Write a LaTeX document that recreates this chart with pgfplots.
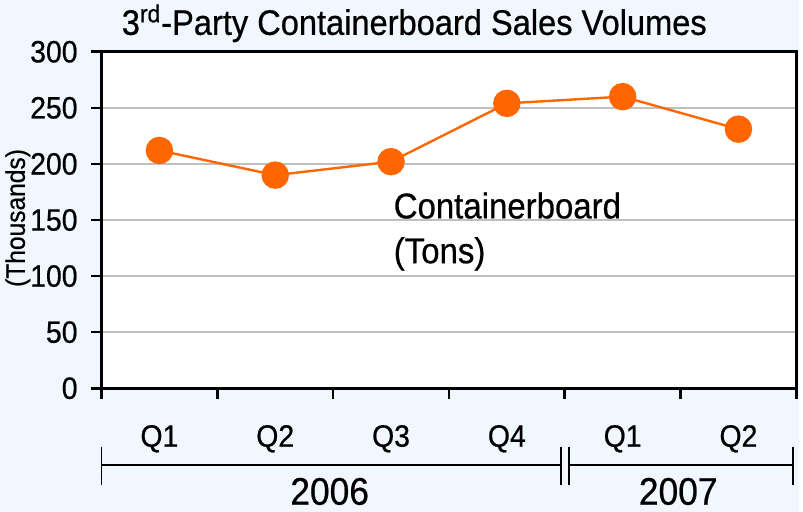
\documentclass[border=0pt]{standalone}
\usepackage{fontspec}
\setmainfont{Liberation Sans}[FakeStretch=0.92, FakeBold=0.6]
\usepackage{pgfplots}
\pgfplotsset{compat=1.18}
\definecolor{bgblue}{RGB}{240,247,255}
\definecolor{orng}{RGB}{255,102,0}
\definecolor{gridgray}{RGB}{192,192,192}

\begin{document}
\begin{tikzpicture}
% background panel
\fill[bgblue] (-51pt,-62pt) rectangle (350.5pt,195pt);
\begin{axis}[
    at={(0,0)}, anchor=south west,
    scale only axis,
    width=349pt, height=169pt,
    xmin=-0.5, xmax=5.5,
    ymin=0, ymax=300,
    axis background/.style={fill=white},
    axis line style={black, line width=1.3pt},
    xtick={-0.5,0.5,...,5.5},
    xticklabels={},
    extra x ticks={0,1,2,3,4,5},
    extra x tick labels={Q1,Q2,Q3,Q4,Q1,Q2},
    extra x tick style={major tick length=0pt, xticklabel style={yshift=-15pt}},
    ytick={0,50,...,300},
    xtick pos=bottom, ytick pos=left,
    tick align=outside,
    major tick length=5.5pt,
    tick style={black, line width=1.3pt},
    ymajorgrids,
    grid style={gridgray, line width=1pt},
    tick label style={font=\fontsize{15.5}{17}\selectfont},
    /pgf/number format/assume math mode=true,
    yticklabel style={xshift=-3pt},
    clip=false,
]
\addplot[orng, line width=1.2pt, mark=*, mark size=6.3pt,
         mark options={fill=orng, draw=orng}] coordinates {
    (0,212) (1,190) (2,202) (3,254) (4,260) (5,231)
};
\node[anchor=base west, align=left, inner sep=0pt,
      font=\fontsize{18}{22.5}\selectfont] at (axis cs:2.02,111.5)
      {Containerboard\\(Tons)};
% year brackets
\draw[black, line width=0.9pt]
    ([yshift=-38.5pt]axis cs:-0.5,0) -- ([yshift=-38.5pt,xshift=-2pt]axis cs:3.5,0);
\draw[black, line width=0.9pt]
    ([yshift=-38.5pt,xshift=2pt]axis cs:3.5,0) -- ([yshift=-38.5pt,xshift=-1.5pt]axis cs:5.5,0);
\draw[black, line width=0.9pt]
    ([yshift=-29.5pt]axis cs:-0.5,0) -- ([yshift=-48.5pt]axis cs:-0.5,0);
\draw[black, line width=0.9pt]
    ([yshift=-29.5pt,xshift=-2pt]axis cs:3.5,0) -- ([yshift=-48.5pt,xshift=-2pt]axis cs:3.5,0);
\draw[black, line width=0.9pt]
    ([yshift=-29.5pt,xshift=2pt]axis cs:3.5,0) -- ([yshift=-48.5pt,xshift=2pt]axis cs:3.5,0);
\draw[black, line width=0.9pt]
    ([yshift=-29.5pt,xshift=-1.5pt]axis cs:5.5,0) -- ([yshift=-48.5pt,xshift=-1.5pt]axis cs:5.5,0);
\node[anchor=base, font=\fontsize{19.3}{21}\selectfont, inner sep=0pt]
    at ([yshift=-58.5pt]axis cs:1.47,0) {2006};
\node[anchor=base, font=\fontsize{19.3}{21}\selectfont, inner sep=0pt]
    at ([yshift=-58.5pt]axis cs:4.48,0) {2007};
\end{axis}
% title and unit label
\node[anchor=base west, inner sep=0pt, font=\fontsize{17.8}{20}\selectfont]
    at (10pt,177.5pt) {3\textsuperscript{rd}-Party Containerboard Sales Volumes};
\node[rotate=90, inner sep=0pt, font=\fontsize{13.4}{15}\selectfont]
    at (-42pt,85.5pt) {(Thousands)};
\end{tikzpicture}
\end{document}
